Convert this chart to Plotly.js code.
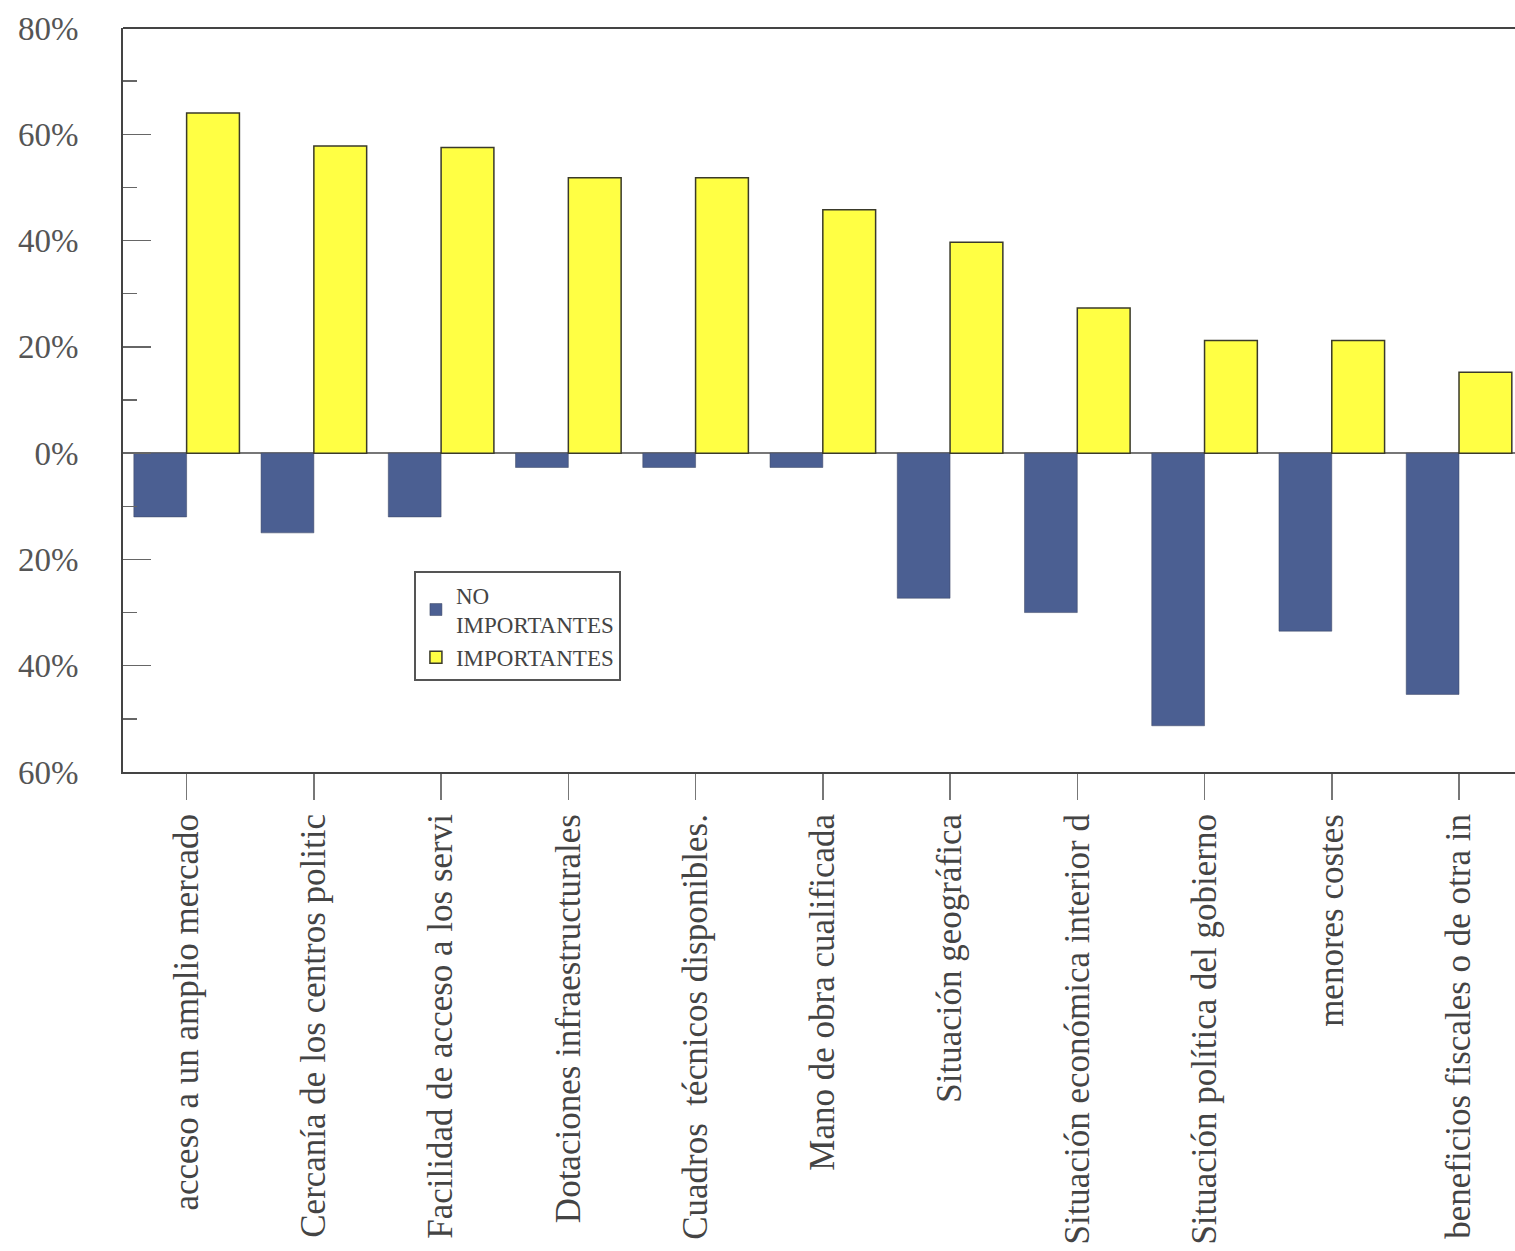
<!DOCTYPE html>
<html>
<head>
<meta charset="utf-8">
<script src="https://cdn.plot.ly/plotly-3.0.1.min.js"></script>
<style>html,body{margin:0;padding:0;background:#fff;}#chart{width:1515px;height:1251px;}</style>
</head>
<body>
<div id="chart"></div>
<script>
const categories = [
  "acceso a un amplio mercado",
  "Cercanía de los centros politic",
  "Facilidad de acceso a los servi",
  "Dotaciones infraestructurales",
  "Cuadros  técnicos disponibles.",
  "Mano de obra cualificada",
  "Situación geográfica",
  "Situación económica interior d",
  "Situación política del gobierno",
  "menores costes",
  "beneficios fiscales o de otra in"
];
const noImportantes = [-12, -15, -12, -2.7, -2.7, -2.7, -27.3, -30, -51.3, -33.5, -45.4];
const importantes = [64, 57.8, 57.5, 51.8, 51.8, 45.8, 39.7, 27.3, 21.2, 21.2, 15.2];
const yTickVals = [-60, -40, -20, 0, 20, 40, 60, 80];
const yTickText = ["60%", "40%", "20%", "0%", "20%", "40%", "60%", "80%"];

const serif = "Liberation Serif, Times New Roman, serif";

const traces = [
  {
    type: "bar", name: "NO<br>IMPORTANTES", x: categories, y: noImportantes,
    marker: {color: "#4b5f92", line: {color: "#3a4560", width: 0.5}}
  },
  {
    type: "bar", name: "IMPORTANTES", x: categories, y: importantes,
    marker: {color: "#ffff44", line: {color: "#3a3a2a", width: 1.5}}
  }
];

const layout = {
  width: 1515, height: 1251,
  margin: {l: 123, r: 0, t: 28, b: 479},
  paper_bgcolor: "#ffffff", plot_bgcolor: "#ffffff",
  font: {family: serif, color: "#444"},
  barmode: "group", bargap: 0.17, bargroupgap: 0,
  showlegend: true,
  legend: {
    x: 0.209, y: 0.27, xanchor: "left", yanchor: "top",
    bgcolor: "#ffffff", bordercolor: "#555", borderwidth: 2,
    font: {family: serif, size: 23, color: "#444"},
    traceorder: "normal", itemwidth: 30, tracegroupgap: 3
  },
  xaxis: {
    type: "category", range: [-0.5, 10.44],
    showline: true, linecolor: "#444", linewidth: 2,
    ticks: "outside", ticklen: 26, tickcolor: "#777", tickwidth: 1.5,
    tickangle: -90, tickfont: {family: serif, size: 35, color: "#444"},
    showgrid: false, zeroline: false, fixedrange: true
  },
  yaxis: {
    range: [-60, 80], tickvals: yTickVals, ticktext: yTickText,
    showline: true, linecolor: "#444", linewidth: 2,
    ticks: "inside", ticklen: 28, tickcolor: "#666", tickwidth: 1.5,
    minor: {dtick: 10, ticks: "inside", ticklen: 14, tickcolor: "#666", tickwidth: 1.5},
    ticklabelstandoff: 36,
    tickfont: {family: serif, size: 33, color: "#555"},
    showgrid: false, zeroline: true, zerolinecolor: "#777", zerolinewidth: 2
  },
  shapes: [
    {type: "line", xref: "paper", yref: "paper", x0: 0, x1: 1, y0: 1, y1: 1,
     line: {color: "#444", width: 2}}
  ]
};

Plotly.newPlot("chart", traces, layout, {displayModeBar: false, staticPlot: true});
</script>
</body>
</html>
